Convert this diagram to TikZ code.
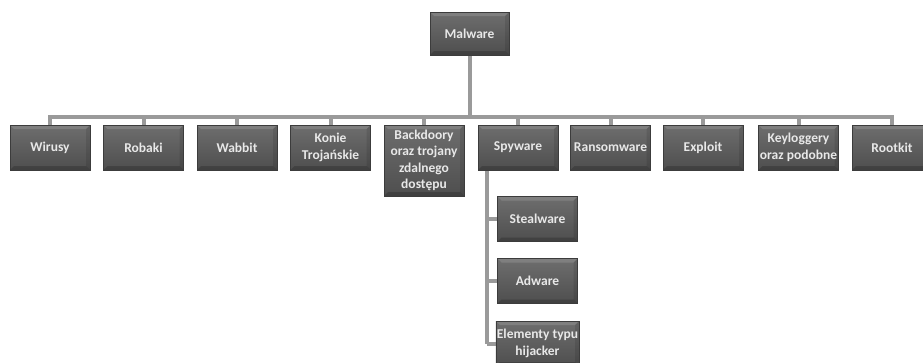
\documentclass[tikz,border=0pt]{standalone}
\usepackage{fontspec}
\setmainfont{Carlito}
\definecolor{conncol}{HTML}{9A9A9A}
\definecolor{boxtop}{HTML}{6E6E6E}
\definecolor{boxbot}{HTML}{4E4E4E}
\definecolor{boxedge}{HTML}{3C3C3C}
\definecolor{boxtext}{HTML}{E8E8E8}
\pgfdeclarelayer{bg}
\pgfsetlayers{bg,main}
\tikzset{
  box/.style={rectangle, top color=boxtop, bottom color=boxbot, draw=boxedge, line width=0.6pt,
    minimum width=80pt, minimum height=45pt, inner sep=1pt, align=center,
    text=boxtext, font=\fontsize{13.5}{16.5}\selectfont\bfseries,
    path picture={
      \fill[white,opacity=0.13] (path picture bounding box.north west) -- (path picture bounding box.north east)
        -- ([xshift=-4pt,yshift=-4pt]path picture bounding box.north east) -- ([xshift=4pt,yshift=-4pt]path picture bounding box.north west) -- cycle;
      \fill[black,opacity=0.18] (path picture bounding box.south west) -- (path picture bounding box.south east)
        -- ([xshift=-4pt,yshift=4pt]path picture bounding box.south east) -- ([xshift=4pt,yshift=4pt]path picture bounding box.south west) -- cycle;
      \fill[black,opacity=0.10] (path picture bounding box.north east) -- (path picture bounding box.south east)
        -- ([xshift=-4pt,yshift=4pt]path picture bounding box.south east) -- ([xshift=-4pt,yshift=-4pt]path picture bounding box.north east) -- cycle;
    }},
  conn/.style={draw=conncol, line width=4pt}
}
\begin{document}
\begin{tikzpicture}[x=1pt,y=-1pt]
\useasboundingbox (0,0) rectangle (923,362);
\clip (0,0) rectangle (923,362);
\coordinate (yb) at (0,116.5);
\coordinate (sx) at (487,0);
% nodes
\node[box, minimum width=79pt, minimum height=43pt] (malware) at (469.5,33.5) {Malware};
\node[box] (wirusy) at (50,147.5) {Wirusy};
\node[box] (robaki) at (143.5,147.5) {Robaki};
\node[box] (wabbit) at (237,147.5) {Wabbit};
\node[box] (konie) at (330.5,147.5) {Konie\\Trojańskie};
\node[box, minimum height=71pt] (backdoor) at (424,160.5) {Backdoory\\oraz trojany\\zdalnego\\dostępu};
\node[box] (spyware) at (518,147.5) {Spyware};
\node[box] (ransom) at (610.5,147.5) {Ransomware};
\node[box] (exploit) at (703,147.5) {Exploit};
\node[box] (keylog) at (798.5,147.5) {Keyloggery\\oraz podobne};
\node[box] (rootkit) at (892,147.5) {Rootkit};
\node[box] (steal) at (537.5,219) {Stealware};
\node[box] (adware) at (537.5,281) {Adware};
\node[box] (hijack) at (537.5,343.5) {Elementy typu\\hijacker};
% connectors (behind boxes)
\begin{pgfonlayer}{bg}
\draw[conn] (malware.south) -- (malware.south |- yb);
\draw[conn, line cap=rect] (wirusy.north |- yb) -- (rootkit.north |- yb);
\foreach \c in {wirusy,robaki,wabbit,konie,backdoor,spyware,ransom,exploit,keylog,rootkit}
  \draw[conn] (\c.north |- yb) -- (\c.north);
\draw[conn] (spyware.south -| sx) -- (hijack.west -| sx);
\foreach \c in {steal,adware,hijack}
  \draw[conn] (\c.west -| sx) -- (\c.west);
\end{pgfonlayer}
\end{tikzpicture}
\end{document}
